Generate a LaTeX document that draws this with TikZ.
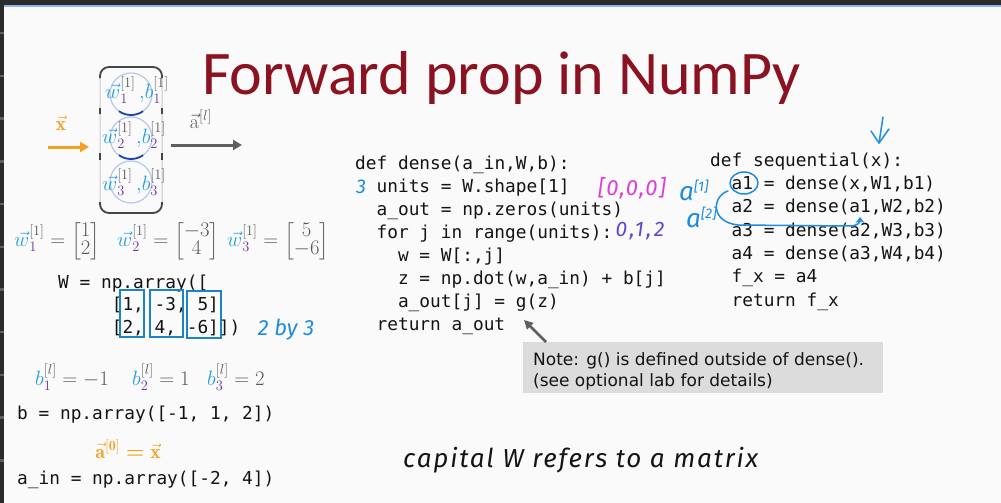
\documentclass[tikz,border=0pt]{standalone}
\usepackage{amsmath}
\usepackage{fontspec}
\newfontfamily\codefont{DejaVu Sans Mono}
\newfontfamily\notefont{DejaVu Sans}
\newfontfamily\titlefont{Carlito}
\newfontfamily\handfont{Fira Sans}
\usetikzlibrary{arrows.meta}
\definecolor{bgc}{RGB}{250,250,250}
\definecolor{darkband}{RGB}{43,43,43}
\definecolor{topblue}{RGB}{140,180,242}
\definecolor{tickgray}{RGB}{95,95,95}
\definecolor{titlered}{RGB}{139,18,32}
\definecolor{codeblack}{RGB}{20,20,20}
\definecolor{wblue}{RGB}{35,160,225}
\definecolor{purp}{RGB}{112,48,160}
\definecolor{grayt}{RGB}{89,89,89}
\definecolor{orng}{RGB}{245,160,35}
\definecolor{boxblue}{RGB}{30,130,200}
\definecolor{handblue}{RGB}{30,140,225}
\definecolor{handmag}{RGB}{225,60,215}
\definecolor{handpur}{RGB}{95,70,210}
\definecolor{notegray}{RGB}{220,220,220}
\definecolor{circblue}{RGB}{185,198,236}
\definecolor{arcblue}{RGB}{30,70,170}
\definecolor{layergray}{RGB}{200,200,200}
\definecolor{darkstroke}{RGB}{70,70,70}
\definecolor{arrgray}{RGB}{95,95,95}
\newcommand\Wv[1]{{{\color{wblue}\vec{w}}}^{{\color{grayt}[1]}}_{{\color{purp}#1}}}
\newcommand\Bv[2]{{{\color{wblue}b}}^{{\color{grayt}#2}}_{{\color{purp}#1}}}
\begin{document}
\begin{tikzpicture}[x=1pt,y=-1pt,
  code/.style={anchor=base west,inner sep=0,font=\codefont\fontsize{17.8}{20}\selectfont,text=codeblack},
  eqn/.style={inner sep=0,font=\fontsize{20}{22}\selectfont,text=grayt},
  hand/.style={inner sep=0,font=\handfont\itshape\fontsize{#1}{#1}\selectfont},
  hline/.style={draw=handblue,line width=1.5pt,line cap=round,line join=round},
  notetext/.style={anchor=base west,inner sep=0,font=\notefont\fontsize{17}{20}\selectfont,text=codeblack},
  colbox/.style={draw=boxblue,line width=2pt},
  darkedge/.style={draw=darkstroke,line width=1.8pt},
  ]
\useasboundingbox (0,0) rectangle (1001,503);
% frame
\fill[bgc] (0,0) rectangle (1001,503);
\fill[darkband] (0,0) rectangle (1001,5);
\fill[topblue] (4,5) rectangle (1001,7.5);
\fill[darkband] (0,0) rectangle (4,503);
\foreach \k in {0,...,10} \fill[tickgray] (0,{32+42.7*\k}) rectangle (4,{34.5+42.7*\k});
% title
\node[anchor=base west,inner sep=0,font=\titlefont\fontsize{62}{62}\selectfont,text=titlered] (title) at (202,95) {Forward prop in NumPy};
% layer diagram
\node[draw=layergray,line width=1pt,rounded corners=9pt,minimum width=62,minimum height=146,inner sep=0] (layer) at (131,140) {};
\draw[darkedge,rounded corners=9pt] (100,78) -- (100,67) -- (162,67) -- (162,78);
\draw[darkedge,rounded corners=9pt] (100,202) -- (100,213) -- (162,213) -- (162,202);
\draw[darkedge] (100,108) -- (100,114) (162,108) -- (162,114) (100,153) -- (100,160) (162,153) -- (162,160);
\node[circle,draw=circblue,line width=1.2pt,minimum size=42,inner sep=0,outer sep=0] (c1) at (131,94) {};
\node[circle,draw=circblue,line width=1.2pt,minimum size=42,inner sep=0,outer sep=0] (c2) at (131,138) {};
\node[circle,draw=circblue,line width=1.2pt,minimum size=42,inner sep=0,outer sep=0] (c3) at (131,182) {};
\draw[arcblue,line width=1.8pt] (c1.center) ++(125:21) arc[start angle=125,end angle=55,radius=21];
\draw[arcblue,line width=1.8pt] (c2.center) ++(125:21) arc[start angle=125,end angle=55,radius=21];
\node[eqn,anchor=base] (L1) at (137,98) {$\Wv{1}\,{\color{wblue},}\Bv{1}{[1]}$};
\node[eqn,anchor=base] (L2) at (134,143) {$\Wv{2}\,{\color{wblue},}\Bv{2}{[1]}$};
\node[eqn,anchor=base] (L3) at (134,190) {$\Wv{3}\,{\color{wblue},}\Bv{3}{[1]}$};
\coordinate (xin) at (48,147);
\coordinate (xend) at (89,147);
\draw[orng,line width=3pt,-{Triangle[length=9pt,width=10pt]}] (xin) -- (xend);
\node[eqn,anchor=base,text=orng] (xl) at (61,130) {$\vec{\mathbf{x}}$};
\coordinate (ain) at (171,145);
\coordinate (aend) at (242,145);
\draw[arrgray,line width=3pt,-{Triangle[length=9pt,width=10pt]}] (ain) -- (aend);
\node[eqn,anchor=base] (al1) at (201,128) {$\vec{\mathrm{a}}^{[l]}$};
% vectors
\renewcommand{\arraystretch}{0.75}
\node[eqn,anchor=west] (v1) at (14,241) {$\Wv{1} = \begin{bmatrix}1\\2\end{bmatrix}$};
\node[eqn,anchor=west] (v2) at (117,241) {$\Wv{2} = \begin{bmatrix}-3\\4\end{bmatrix}$};
\node[eqn,anchor=west] (v3) at (227,241) {$\Wv{3} = \begin{bmatrix}5\\-6\end{bmatrix}$};
% W array
\node[code] (Wl) at (58,288) {W = np.array([};
\node[code] (r1) at (111.6,310) {[1, -3, 5]};
\node[code] (r2) at (111.6,333) {[2, 4, -6]])};
\draw[colbox] (120,290) rectangle (144,337);
\draw[colbox] (150,290) rectangle (183,337);
\draw[colbox] (187,291) rectangle (221,338);
\node[hand=22,text=handblue] (h23) at (286,330) {2 by 3};
% b
\node[eqn,anchor=base west] (b1) at (35,385) {$\Bv{1}{[l]} = -1$};
\node[eqn,anchor=base west] (b2) at (132,385) {$\Bv{2}{[l]} = 1$};
\node[eqn,anchor=base west] (b3) at (207,385) {$\Bv{3}{[l]} = 2$};
\node[code] (bl) at (17,419) {b = np.array([-1, 1, 2])};
\node[eqn,anchor=base,text=orng] (a0) at (128,458) {$\vec{\mathbf{a}}^{\mathbf{[0]}} \mathrel{\boldsymbol{=}} \vec{\mathbf{x}}$};
\node[code] (ail) at (17,484) {a\_in = np.array([-2, 4])};
% dense
\node[code] (d0) at (355,169) {def dense(a\_in,W,b):};
\node[code] (d1) at (376.4,192) {units = W.shape[1]};
\node[code] (d2) at (376.4,215) {a\_out = np.zeros(units)};
\node[code] (d3) at (376.4,238) {for j in range(units):};
\node[code] (d4) at (397.8,261) {w = W[:,j]};
\node[code] (d5) at (397.8,284) {z = np.dot(w,a\_in) + b[j]};
\node[code] (d6) at (397.8,307) {a\_out[j] = g(z)};
\node[code] (d7) at (376.4,330) {return a\_out};
\node[hand=20,text=handblue] (h3) at (361,187) {3};
\node[hand=22,text=handmag] (hz) at (632,188) {\addfontfeature{LetterSpace=6}[0,0,0]};
\node[hand=21,text=handpur] (hr) at (640,231) {\addfontfeature{LetterSpace=12}0,1,2};
% sequential
\node[code] (s0) at (710,166) {def sequential(x):};
\node[code] (s1) at (731.4,189.5) {a1 = dense(x,W1,b1)};
\node[code] (s2) at (731.4,212.8) {a2 = dense(a1,W2,b2)};
\node[code] (s3) at (731.4,236) {a3 = dense(a2,W3,b3)};
\node[code] (s4) at (731.4,259.4) {a4 = dense(a3,W4,b4)};
\node[code] (s5) at (731.4,282.7) {f\_x = a4};
\node[code] (s6) at (731.4,306) {return f\_x};
\node[hand=26,text=handblue,anchor=base west] (ha1) at (679,200) {a\raisebox{9pt}{\fontsize{14}{14}\selectfont[1]}};
\node[hand=26,text=handblue,anchor=base west] (ha2) at (686,227) {a\raisebox{9pt}{\fontsize{14}{14}\selectfont[2]}};
\draw[hline] (744,183) ellipse[x radius=14,y radius=11];
\draw[hline,-{Stealth[length=6pt,width=9pt]}] (728,191) .. controls (712,196) and (710,222) .. (738,225) -- (850,226) .. controls (858,226) and (860,222) .. (860,217);
\draw[hline] (883,117) -- (879,143);
\draw[hline] (871,131) -- (879,143) -- (889,129);
% note
\node[fill=notegray,minimum width=360,minimum height=51,anchor=north west,inner sep=0] (note) at (523,342) {};
\node[notetext] (n1) at (533,365) {Note: g() is defined outside of dense().};
\node[notetext] (n2) at (533,386) {(see optional lab for details)};
\coordinate (rettip) at (524,320);
\draw[arrgray,line width=2.5pt,-{Triangle[length=9pt,width=9pt]}] ([xshift=23pt]note.north west) -- (rettip);
% handwritten remark
\node[hand=26,text=codeblack,anchor=base west] (cap) at (403,467) {\addfontfeature{LetterSpace=7}capital W refers to a matrix};
\end{tikzpicture}
\end{document}
